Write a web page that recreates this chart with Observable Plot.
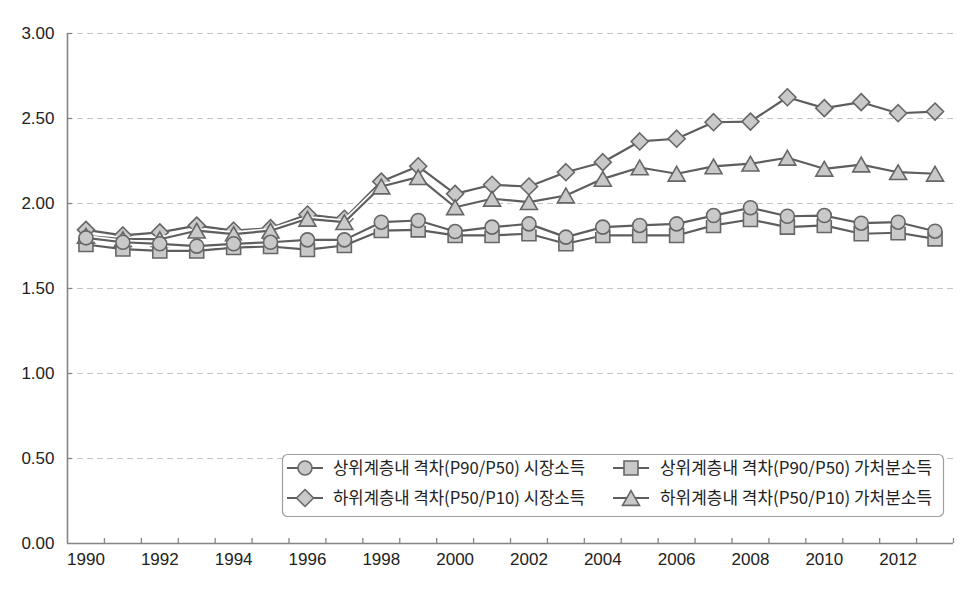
<!DOCTYPE html>
<html><head><meta charset="utf-8">
<script src="https://cdn.jsdelivr.net/npm/d3@7"></script>
<script src="https://cdn.jsdelivr.net/npm/@observablehq/plot@0.6"></script>
<style>
html,body{margin:0;padding:0;background:#fff;}
#wrap{position:relative;width:972px;height:589px;overflow:hidden;}
#legend{position:absolute;left:0;top:0;}
</style></head><body><div id="wrap"></div>
<script>
const years = [1990,1991,1992,1993,1994,1995,1996,1997,1998,1999,2000,2001,2002,2003,2004,2005,2006,2007,2008,2009,2010,2011,2012,2013];
const labelYears = [1990,1992,1994,1996,1998,2000,2002,2004,2006,2008,2010,2012];
const yTicks = [0,0.5,1,1.5,2,2.5,3];
const seriesNames = ["상위계층내 격차(P90/P50) 시장소득","상위계층내 격차(P90/P50) 가처분소득","하위계층내 격차(P50/P10) 시장소득","하위계층내 격차(P50/P10) 가처분소득"];
const upperMarket = [1.798,1.772,1.763,1.749,1.763,1.772,1.786,1.786,1.890,1.900,1.835,1.861,1.880,1.802,1.861,1.871,1.880,1.929,1.975,1.925,1.929,1.884,1.890,1.837];
const upperDisposable = [1.759,1.732,1.721,1.721,1.741,1.747,1.729,1.753,1.841,1.845,1.812,1.812,1.822,1.763,1.812,1.812,1.812,1.871,1.906,1.861,1.871,1.822,1.828,1.792];
const lowerMarket = [1.845,1.812,1.830,1.870,1.840,1.855,1.935,1.910,2.129,2.219,2.057,2.110,2.100,2.184,2.243,2.365,2.381,2.478,2.482,2.625,2.561,2.596,2.531,2.541];
const lowerDisposable = [1.810,1.790,1.790,1.840,1.820,1.840,1.910,1.890,2.100,2.155,1.978,2.028,2.008,2.047,2.145,2.212,2.175,2.218,2.234,2.269,2.204,2.229,2.184,2.175];

const seriesValues = [upperMarket, upperDisposable, lowerMarket, lowerDisposable];
const symbols = ["circle","square","diamond2","triangle"];
const radii = [7, 7.9, 7.65, 6.3];
const dys = [0, 0, 0, 2.45];
const drawOrder = [2, 1, 3, 0];

const rowsOf = k => years.map((yr, i) => ({year: yr, value: seriesValues[k][i], series: seriesNames[k]}));
const xMin = years[0] - 0.5, xMax = years[years.length - 1] + 0.5;
const boundaries = years.map(y => y + 0.5);

const axisColor = "#858585";
const lineColor = "#5e5e5e";
const markFill = "#c9c9c9";
const markStroke = "#666666";

const marks = [
  Plot.gridY(yTicks.filter(d => d > 0), {stroke: "#c4c4c4", strokeOpacity: 1, strokeDasharray: "6,4", strokeWidth: 1}),
  Plot.ruleX([xMin], {stroke: axisColor, strokeWidth: 1.6}),
  Plot.ruleY([0], {stroke: axisColor, strokeWidth: 1.6}),
  Plot.ruleX(boundaries, {x: d => d, y1: 0, y2: 0, insetBottom: 5, stroke: axisColor, strokeWidth: 1.3}),
  Plot.ruleY(yTicks.filter(d => d > 0), {y: d => d, x1: xMin, x2: xMin, insetRight: -5, stroke: axisColor, strokeWidth: 1.3}),
  Plot.axisX({ticks: labelYears, tickSize: 0, tickPadding: 9, tickFormat: d => String(d), fill: "#222", label: null}),
  Plot.axisY({ticks: yTicks, tickSize: 0, tickPadding: 13, tickFormat: d => d.toFixed(2), fill: "#222", label: null})
];
for (const k of drawOrder) {
  const rows = rowsOf(k);
  marks.push(Plot.line(rows, {x: "year", y: "value", stroke: "white", strokeWidth: 5.5}));
  marks.push(Plot.line(rows, {x: "year", y: "value", stroke: lineColor, strokeWidth: 2.2}));
  marks.push(Plot.dot(rows, {x: "year", y: "value", symbol: () => symbols[k], r: radii[k], dy: dys[k], fill: markFill, stroke: markStroke, strokeWidth: 1.6}));
}

const chart = Plot.plot({
  width: 972, height: 589,
  marginLeft: 67, marginRight: 19, marginTop: 33, marginBottom: 46,
  style: {fontFamily: "'Liberation Sans', Arial, sans-serif", fontSize: "17px", background: "white", color: "#222"},
  x: {domain: [xMin, xMax], axis: null, label: null},
  y: {domain: [0, 3], axis: null, label: null},
  symbol: {type: "identity"},
  marks
});
document.getElementById("wrap").appendChild(chart);

// Legend overlay
const lg = d3.select("#wrap").append("svg").attr("id", "legend").attr("width", 972).attr("height", 589);
lg.append("rect").attr("x", 282.5).attr("y", 454.5).attr("width", 661).attr("height", 62).attr("rx", 5)
  .attr("fill", "white").attr("stroke", "#a0a0a0").attr("stroke-width", 1.2);
const legendPos = [
  {k: 0, mx: 305, tx: 333, ty: 468, tl: 252},
  {k: 1, mx: 631, tx: 660, ty: 468, tl: 272},
  {k: 2, mx: 305, tx: 333, ty: 498, tl: 252},
  {k: 3, mx: 631, tx: 660, ty: 498, tl: 272}
];
for (const p of legendPos) {
  lg.append("line").attr("x1", p.mx - 18).attr("x2", p.mx + 18).attr("y1", p.ty).attr("y2", p.ty)
    .attr("stroke", lineColor).attr("stroke-width", 2);
  const symType = {circle: d3.symbolCircle, square: d3.symbolSquare, diamond2: d3.symbolDiamond2, triangle: d3.symbolTriangle}[symbols[p.k]];
  const size = Math.PI * radii[p.k] * radii[p.k];
  lg.append("path").attr("d", d3.symbol(symType, size)())
    .attr("transform", `translate(${p.mx},${p.ty + dys[p.k]})`)
    .attr("fill", markFill).attr("stroke", markStroke).attr("stroke-width", 1.6);
  lg.append("text").attr("x", p.tx).attr("y", p.ty).attr("dy", "0.36em")
    .attr("font-family", "'Noto Sans CJK KR', sans-serif").attr("font-size", 17).attr("fill", "#222")
    .attr("textLength", p.tl).attr("lengthAdjust", "spacingAndGlyphs")
    .text(seriesNames[p.k]);
}
</script>
</body></html>
